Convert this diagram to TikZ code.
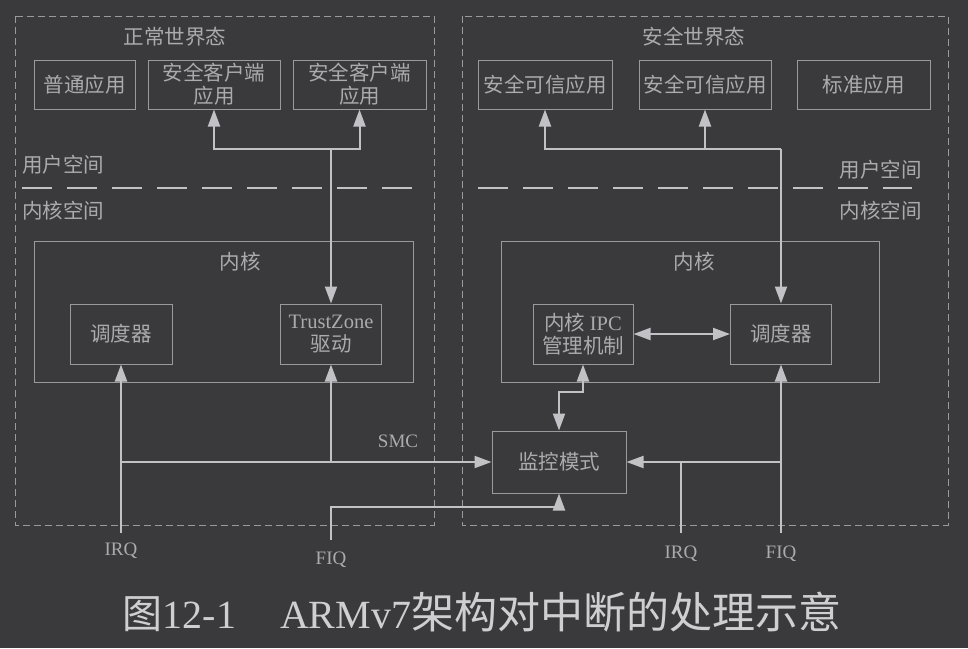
\documentclass[tikz,border=0pt]{standalone}
\usepackage{fontspec}
\setmainfont{Liberation Serif}
\newfontfamily\cjk{Noto Sans CJK SC}
\usetikzlibrary{arrows.meta}
\definecolor{PageBg}{HTML}{3A3A3D}
\definecolor{LineGray}{HTML}{C2C2C6}
\definecolor{BoxGray}{HTML}{9A9A9D}
\definecolor{TextGray}{HTML}{ABABAD}
\definecolor{CapGray}{HTML}{CFCFD1}
\tikzset{
  box/.style={draw=BoxGray, line width=1pt, text=TextGray, align=center,
    inner sep=0pt, minimum height=49pt, font=\fontsize{20.5}{23}\selectfont\cjk},
  inbox/.style={box, minimum height=60pt},
  world/.style={draw=BoxGray, line width=0.9pt, dash pattern=on 7pt off 4pt},
  sepline/.style={draw=LineGray, line width=2.6pt, dash pattern=on 30pt off 15pt},
  link/.style={draw=LineGray, line width=2pt},
  arr/.style={link, -{Triangle[length=17pt,width=12pt]}},
  darr/.style={link, {Triangle[length=17pt,width=12pt]}-{Triangle[length=17pt,width=12pt]}},
  lbl/.style={text=TextGray, inner sep=0pt, font=\fontsize{20.5}{23}\selectfont\cjk},
  sig/.style={text=TextGray, inner sep=0pt, font=\fontsize{19}{23}\selectfont}
}

\begin{document}
\begin{tikzpicture}[x=1pt, y=-1pt]
  \fill[PageBg] (0,0) rectangle (968,648);
  \useasboundingbox (0,0) rectangle (968,648);

  \draw[world] (15,16) rectangle (434,525);
  \draw[world] (462,16) rectangle (948,525);
  \draw[sepline] (22,188) -- (412,188);
  \draw[sepline] (478,188) -- (912,188);

  \node[lbl] (nwTitle) at (175,37) {正常世界态};
  \node[lbl] (swTitle) at (694,37) {安全世界态};
  \node[lbl, anchor=west] (userL) at (22,165) {用户空间};
  \node[lbl, anchor=west] (kspL) at (22,211) {内核空间};
  \node[lbl, anchor=east] (userR) at (922,170) {用户空间};
  \node[lbl, anchor=east] (kspR) at (922,211) {内核空间};

  \node[box, minimum width=101pt] (normApp) at (84.5,84.5) {普通应用};
  \node[box, minimum width=132pt] (cliA) at (214,84.5) {安全客户端\\应用};
  \node[box, minimum width=133pt] (cliB) at (359.5,84.5) {安全客户端\\应用};
  \node[box, minimum width=134pt] (taA) at (545,84.5) {安全可信应用};
  \node[box, minimum width=132pt] (taB) at (705,84.5) {安全可信应用};
  \node[box, minimum width=133pt] (stdApp) at (863.5,84.5) {标准应用};

  \node[box, minimum width=379pt, minimum height=141pt] (kernL) at (223.5,311.5) {};
  \node[box, minimum width=378pt, minimum height=141pt] (kernR) at (690,311.5) {};
  \node[lbl] (kernLTitle) at (240,262) {内核};
  \node[lbl] (kernRTitle) at (694,262) {内核};

  \node[inbox, minimum width=102pt] (schL) at (121,334) {调度器};
  \node[inbox, minimum width=101pt] (tz) at (331,334) {{\rmfamily TrustZone}\\驱动};
  \node[inbox, minimum width=100pt] (ipc) at (583,334) {内核 {\rmfamily IPC}\\管理机制};
  \node[inbox, minimum width=101pt] (schR) at (781,334) {调度器};
  \node[box, minimum width=134pt, minimum height=62pt] (mon) at (559,462) {监控模式};

  \coordinate (barL) at (331,149);
  \coordinate (barR) at (781,149);
  \draw[arr] (barL) -| (cliA.south);
  \draw[arr] (barL) -| (cliB.south);
  \draw[arr] (barL) -- (tz.north);
  \draw[arr] (barR) -| (taA.south);
  \draw[arr] (barR) -| (taB.south);
  \draw[arr] (barR) -- (schR.north);

  \draw[darr] (ipc.east) -- (schR.west);
  \coordinate (ipcBend) at (583,392);
  \draw[darr] (ipc.south) -- (ipcBend) -| (mon.north);

  \coordinate (irqL) at (121,533);
  \coordinate (fiqL) at (331,540);
  \coordinate (fiqBend) at (331,507);
  \coordinate (irqR) at (681,533);
  \coordinate (fiqR) at (781,533);
  \draw[arr] (irqL) -- (schL.south);
  \draw[arr] (irqL |- mon.west) -- (mon.west);
  \draw[arr] (tz.south |- mon.west) -- (tz.south);
  \draw[arr] (fiqL) -- (fiqBend) -| (mon.south);
  \draw[arr] (fiqR) -- (schR.south);
  \draw[arr] (fiqR |- mon.east) -- (mon.east);
  \draw[link] (irqR) -- (irqR |- mon.east);

  \node[sig] (smc) at (398,441) {SMC};
  \node[sig] (irqLTxt) at (121,551) {IRQ};
  \node[sig] (fiqLTxt) at (331,560) {FIQ};
  \node[sig] (irqRTxt) at (681,554) {IRQ};
  \node[sig] (fiqRTxt) at (781,554) {FIQ};

  \node[text=CapGray, inner sep=0pt, font=\fontsize{40}{48}\selectfont] (caption) at (482,612)
    {{\cjk 图}12-1\hspace{44pt}ARMv7{\cjk\fontsize{43}{48}\selectfont 架构对中断的处理示意}};
\end{tikzpicture}
\end{document}
